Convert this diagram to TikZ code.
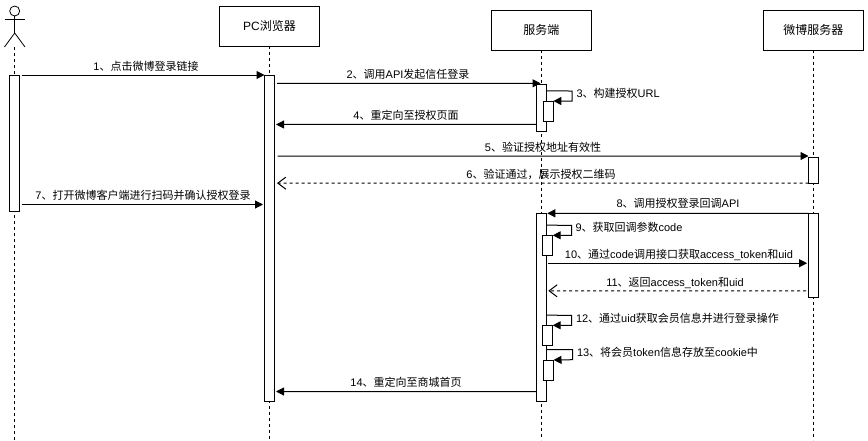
\documentclass[tikz,border=0pt]{standalone}
\usepackage{fontspec}
\setmainfont{Liberation Sans}
\newfontfamily\cjk{Noto Sans CJK SC}
\usetikzlibrary{arrows.meta}
\newcommand{\zh}[1]{{\cjk #1}}

\begin{document}
\begin{tikzpicture}[x=0.75pt, y=-0.75pt, line width=0.75pt,
	box/.style = {draw, fill=white, minimum width=75pt, minimum height=30pt, inner sep=0pt, outer sep=0pt, font=\fontsize{9}{11}\selectfont},
	bar/.style = {draw, fill=white, minimum width=7.5pt, inner sep=0pt, outer sep=0pt},
	lbl/.style = {inner sep=0pt, font=\fontsize{8.25}{10}\selectfont},
	life/.style = {dash pattern=on 2.25pt off 2.25pt},
	msg/.style = {-{Triangle[length=6pt,width=6pt]}},
	ret/.style = {dash pattern=on 2.25pt off 2.25pt, -{Straight Barb[length=6pt,width=9pt]}},
	limb/.style = {line width=0.6pt}]
\useasboundingbox (0,0) rectangle (868,440);

% participants
\node[draw, circle, limb, minimum size=7.5pt, inner sep=0pt, outer sep=0pt] (head) at (14.7,11) {};
\coordinate (armL) at (4.5,19.7);
\coordinate (armR) at (25,19.7);
\coordinate (hip) at (14.7,33);
\coordinate (legL) at (4.5,47);
\coordinate (legR) at (25,47);
\coordinate (feet) at (14.7,47);
\node[box] (pc) at (269.5,26) {PC\zh{浏览器}};
\node[box] (srv) at (541.3,30) {\zh{服务端}};
\node[box] (wb) at (813.3,30) {\zh{微博服务器}};
\coordinate (pcEnd) at (269.5,440);
\coordinate (srvEnd) at (541.3,440);
\coordinate (wbEnd) at (813.3,440);
\coordinate (usrEnd) at (14.7,440);

\draw[limb] (head) -- (hip);
\draw[limb] (armL) -- (armR);
\draw[limb] (legL) -- (hip) -- (legR);

% lifelines
\draw[life] (feet) -- (usrEnd);
\draw[life] (pc) -- (pcEnd);
\draw[life] (srv) -- (srvEnd);
\draw[life] (wb) -- (wbEnd);

% activations
\node[bar, minimum height=102pt] (usrA) at (14.5,143) {};
\node[bar, minimum height=244.5pt] (pcA) at (269.5,238) {};
\node[bar, minimum height=35pt] (srvA) at (541.5,107.8) {};
\node[bar, minimum height=15pt] (srvB) at (548.4,111) {};
\node[bar, minimum height=19pt] (wbA) at (813.5,170.5) {};
\node[bar, minimum height=141pt] (srvC) at (541.3,307.2) {};
\node[bar, minimum height=63.3pt] (wbB) at (813.6,255.5) {};
\node[bar, minimum height=15pt] (srvD) at (547.7,245.3) {};
\node[bar, minimum height=15pt] (srvE) at (547.7,335.3) {};
\node[bar, minimum height=15pt] (srvF) at (548.5,370) {};

% messages
\draw[msg] ([shift={(2,0)}]usrA.north east) -- (pcA.north west);
\draw[msg] ([shift={(2.5,8.3)}]pcA.north east) -- ([shift={(4,-1.17)}]srvA.north west);
\draw[msg] ([shift={(0,40)}]srvA.north west) -- ([shift={(1.5,49.47)}]pcA.north east);
\draw[msg] ([shift={(3,81)}]pcA.north east) -- ([shift={(0,-1.83)}]wbA.north west);
\draw[ret] (wbA.south west) -- ([shift={(2.5,108.17)}]pcA.north east);
\draw[msg] ([shift={(2,129.5)}]usrA.north east) -- ([shift={(-1.5,129.5)}]pcA.north west);
\draw[msg] (wbB.north west) -- ([shift={(1,0.1)}]srvC.north east);
\draw[msg] ([shift={(2,50)}]srvC.north east) -- ([shift={(-1.5,49.9)}]wbB.north west);
\draw[ret] ([shift={(-2.5,77.5)}]wbB.north west) -- ([shift={(2,77.6)}]srvC.north east);
\draw[msg] ([shift={(0,-9.5)}]srvC.south west) -- ([shift={(1.5,-9.5)}]pcA.south east);

% self calls
\coordinate (c3a) at (572,91);
\coordinate (c3b) at (572,101);
\draw[msg] ([shift={(0,6.5)}]srvA.north east) -- (c3a) -- (c3b) -- (srvB.north east);
\coordinate (c9a) at (571.6,225.3);
\coordinate (c9b) at (571.6,235.3);
\draw[msg] ([shift={(0,12)}]srvC.north east) -- (c9a) -- (c9b) -- (srvD.north east);
\coordinate (c12a) at (571.6,315.3);
\coordinate (c12b) at (571.6,325.3);
\draw[msg] ([shift={(0,102)}]srvC.north east) -- (c12a) -- (c12b) -- (srvE.north east);
\coordinate (c13a) at (572.5,349.7);
\coordinate (c13b) at (572.5,359.7);
\draw[msg] ([shift={(0,136.4)}]srvC.north east) -- (c13a) -- (c13b) -- (srvF.north east);

% labels
\node[lbl] (t1) at (146,66) {1\zh{、点击微博登录链接}};
\node[lbl] (t2) at (408,74) {2\zh{、调用}API\zh{发起信任登录}};
\node[lbl, anchor=west] (t3) at (576,93.3) {3\zh{、构建授权}URL};
\node[lbl] (t4) at (406,115) {4\zh{、重定向至授权页面}};
\node[lbl] (t5) at (543,147) {5\zh{、验证授权地址有效性}};
\node[lbl] (t6) at (541,174) {6\zh{、验证通过，展示授权二维码}};
\node[lbl] (t7) at (143,195) {7\zh{、打开微博客户端进行扫码并确认授权登录}};
\node[lbl] (t8) at (678,203.5) {8\zh{、调用授权登录回调}API};
\node[lbl, anchor=west] (t9) at (575,227.8) {9\zh{、获取回调参数}code};
\node[lbl] (t10) at (679,254.8) {10\zh{、通过}code\zh{调用接口获取}access\_token\zh{和}uid};
\node[lbl] (t11) at (675,282.8) {11\zh{、返回}access\_token\zh{和}uid};
\node[lbl, anchor=west] (t12) at (575.5,317.8) {12\zh{、通过}uid\zh{获取会员信息并进行登录操作}};
\node[lbl, anchor=west] (t13) at (576.5,352) {13\zh{、将会员}token\zh{信息存放至}cookie\zh{中}};
\node[lbl] (t14) at (406,382) {14\zh{、重定向至商城首页}};
\end{tikzpicture}
\end{document}
